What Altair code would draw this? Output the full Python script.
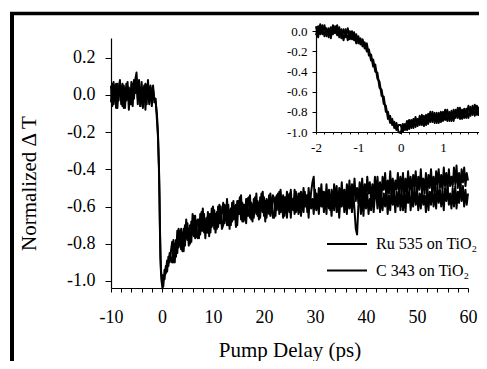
import altair as alt
import pandas as pd

# ---------------- data (values in hundredths) ----------------
# main panel: pump delay (ps)
t_pre = [-10 + 0.25 * i for i in range(35)]           # -10 ... -1.5
t_drop = [-1.25, -1.0, -0.8, -0.6, -0.5, -0.4, -0.3, -0.2, -0.1, 0.0,
          0.1, 0.25, 0.5, 0.75, 1.0, 1.25, 1.5, 1.75]
t_rec = [2 + 0.25 * i for i in range(233)]            # 2 ... 60

ru_pre = [5, -6, 7, -3, 6, -7, 3, 8, -5, 6,
          -7, 4, -3, 7, -8, 3, -5, 6, -2, 8,
          12, -2, 8, -6, 4, -7, 2, 6, -5, 8,
          -4, 5, -6, 3, -2]
c_pre = [-4, 6, -5, 5, -7, 6, -3, 7, 0, -6,
         5, -7, 6, -2, 4, -5, 7, -6, 8, 1,
         9, -5, 6, -6, 7, -4, 5, -8, 5, 6,
         -5, 4, -3, 5, -4]

ru_drop = [-4, -10, -20, -38, -52, -71, -86, -94, -98, -101,
           -97, -103, -94, -96, -89, -92, -85, -89]
c_drop = [-2, -13, -22, -40, -55, -74, -88, -95, -99, -102,
          -104, -98, -99, -92, -95, -87, -90, -84]

ru_rec = [
    -90, -78, -90, -78, -85, -72, -81, -72, -84, -72, -81, -67, -78, -72, -80, -68, -75, -65, -77, -68,
    -67, -77, -64, -73, -61, -74, -67, -74, -63, -76, -64, -71, -60, -72, -64, -72, -60, -69, -60, -72,
    -70, -59, -67, -56, -70, -62, -70, -58, -67, -60, -71, -57, -64, -55, -67, -58, -68, -59, -69, -56,
    -55, -66, -58, -68, -56, -63, -53, -65, -58, -66, -53, -63, -55, -68, -56, -62, -54, -65, -56, -66,
    -66, -55, -62, -53, -64, -51, -61, -54, -65, -55, -66, -54, -63, -51, -61, -56, -64, -52, -62, -53,
    -63, -52, -60, -50, -60, -54, -63, -50, -59, -52, -47, -44, -61, -53, -61, -50, -57, -48, -60, -52,
    -60, -48, -58, -51, -62, -51, -60, -48, -56, -49, -62, -50, -57, -47, -58, -51, -59, -48, -57, -46,
    -58, -48, -55, -45, -57, -50, -58, -47, -55, -45, -58, -48, -55, -44, -53, -47, -57, -48, -56, -44,
    -55, -44, -54, -47, -57, -44, -51, -42, -55, -46, -53, -41, -54, -45, -54, -46, -51, -42, -53, -44,
    -52, -42, -55, -45, -53, -41, -51, -44, -54, -43, -49, -41, -54, -44, -51, -40, -52, -45, -53, -42,
    -53, -43, -50, -40, -52, -44, -53, -41, -48, -40, -50, -43, -52, -39, -49, -42, -51, -40, -49, -44,
    -49, -39, -48, -38, -50, -42, -51, -40, -47, -39, -49, -42, -46]
c_rec = [
    -79, -90, -80, -87, -73, -82, -73, -83, -74, -84, -70, -77, -69, -81, -70, -79, -64, -76, -65, -76,
    -77, -67, -75, -63, -73, -64, -77, -66, -74, -64, -74, -61, -70, -62, -74, -63, -71, -59, -69, -63,
    -58, -69, -61, -70, -59, -72, -61, -68, -57, -66, -59, -70, -57, -64, -54, -68, -59, -67, -56, -65,
    -65, -54, -67, -59, -66, -55, -64, -57, -67, -55, -62, -52, -65, -57, -66, -58, -64, -53, -62, -54,
    -56, -65, -54, -61, -52, -63, -57, -66, -55, -63, -52, -61, -53, -66, -56, -62, -51, -63, -55, -64,
    -53, -65, -55, -63, -52, -60, -54, -66, -53, -61, -56, -64, -51, -62, -55, -64, -53, -60, -52, -63,
    -54, -64, -52, -61, -56, -65, -53, -62, -51, -63, -55, -66, -54, -60, -52, -63, -55, -64, -53, -61,
    -55, -63, -52, -62, -72, -75, -60, -53, -64, -54, -65, -52, -61, -53, -64, -56, -62, -51, -63, -54,
    -52, -61, -50, -63, -55, -62, -53, -60, -51, -64, -54, -62, -51, -59, -53, -63, -52, -60, -50, -62,
    -52, -62, -53, -63, -50, -58, -51, -62, -54, -60, -49, -59, -52, -62, -53, -61, -50, -59, -54, -63,
    -50, -62, -52, -59, -49, -60, -53, -61, -48, -58, -51, -60, -52, -62, -50, -57, -49, -59, -53, -61,
    -50, -60, -49, -61, -52, -58, -48, -57, -49, -60, -51, -59, -53]

# inset: -2 ... 1.85 ps, step 0.05
inset_t = [round(-2 + 0.05 * i, 2) for i in range(78)]
ru_inset = [
    5, -6, 7, -3, 6, -5, 3, -7, 6, -2,
    6, -6, 2, -9, 2, -9, 0, -8, -1, -12,
    -5, -13, -8, -17, -12, -24, -23, -35, -33, -47,
    -50, -64, -65, -80, -80, -91, -87, -96, -91, -100,
    -101, -92, -98, -89, -97, -88, -96, -85, -94, -84,
    -93, -84, -93, -82, -90, -80, -91, -81, -91, -80,
    -89, -78, -89, -80, -89, -78, -86, -76, -87, -78,
    -86, -77, -86, -75, -83, -73, -83, -75]
c_inset = [
    -4, 5, -3, 6, -5, 3, -6, 4, -3, 5,
    -4, 4, -7, 2, -6, 3, -8, 0, -9, -3,
    -12, -7, -15, -11, -20, -18, -29, -28, -40, -41,
    -56, -58, -72, -74, -87, -84, -93, -90, -98, -93,
    -93, -100, -92, -98, -88, -96, -87, -95, -87, -93,
    -83, -94, -83, -92, -80, -90, -81, -91, -81, -90,
    -80, -88, -78, -89, -79, -89, -78, -86, -76, -87,
    -77, -86, -74, -84, -74, -84, -74, -84]

series_names = ["Ru 535", "C 343"]
legend_labels = ["Ru 535 on TiO\u2082", "C 343 on TiO\u2082"]

main_x_ticks = list(range(-10, 61, 2))
main_y_ticks = [0.2, 0.0, -0.2, -0.4, -0.6, -0.8, -1.0]
inset_x_ticks = [-2.0, -1.8, -1.6, -1.4, -1.2, -1.0, -0.8, -0.6, -0.4, -0.2,
                 0.0, 0.2, 0.4, 0.6, 0.8, 1.0, 1.2, 1.4, 1.6, 1.8]
inset_y_ticks = [0.0, -0.2, -0.4, -0.6, -0.8, -1.0]

# ---------------- tables ----------------
main_t = t_pre + t_drop + t_rec
ru_main = [v / 100 for v in ru_pre + ru_drop + ru_rec]
c_main = [v / 100 for v in c_pre + c_drop + c_rec]
n = len(main_t)
df_main = pd.DataFrame({
    "t": main_t + main_t,
    "v": ru_main + c_main,
    "s": [series_names[0]] * n + [series_names[1]] * n,
})
m = len(inset_t)
df_inset = pd.DataFrame({
    "ti": inset_t + inset_t,
    "vi": [v / 100 for v in ru_inset + c_inset],
    "s": [series_names[0]] * m + [series_names[1]] * m,
})

FONT = "Liberation Serif, Times New Roman, DejaVu Serif, serif"
MINUS = "replace(datum.label, '\u2212', '-')"

main = alt.Chart(df_main).mark_line(color="black", strokeWidth=2.0, strokeJoin="round").encode(
    x=alt.X("t:Q",
            scale=alt.Scale(domain=[-10, 60], nice=False, zero=False),
            axis=alt.Axis(values=main_x_ticks, format="d", title="Pump Delay (ps)",
                          labelExpr=f"datum.value % 10 == 0 ? {MINUS} : ''",
                          tickSize=4, labelPadding=16, labelFontSize=18,
                          labelOverlap=False, labelFlush=False,
                          titleFontSize=21, titleY=68, titleBaseline="alphabetic")),
    y=alt.Y("v:Q",
            scale=alt.Scale(domain=[-1.038, 0.306], nice=False, zero=False),
            axis=alt.Axis(values=main_y_ticks, format=".1f", title="Normalized \u0394 T",
                          labelExpr=MINUS, tickSize=6, labelPadding=10, labelFontSize=18,
                          labelOverlap=False, labelFlush=False,
                          titleFontSize=21, titleX=-76, titleY=145,
                          titleBaseline="alphabetic", titleAlign="center")),
    detail="s:N",
)

inset = alt.Chart(df_inset).mark_line(color="black", strokeWidth=2.0, strokeJoin="round").encode(
    x=alt.X("ti:Q",
            scale=alt.Scale(domain=[-2, 1.85], range=[205, 368], nice=False, zero=False),
            axis=alt.Axis(orient="bottom", offset=-156, values=inset_x_ticks, format=".0f",
                          title="",
                          labelExpr=f"abs(datum.value - round(datum.value)) < 0.001 ? {MINUS} : ''",
                          tickSize=2, labelPadding=7, labelFontSize=13,
                          labelOverlap=False, labelFlush=False)),
    y=alt.Y("vi:Q",
            scale=alt.Scale(domain=[-1.0, 0.0476], range=[94, -11.5], nice=False, zero=False),
            axis=alt.Axis(orient="left", offset=-205, values=inset_y_ticks, format=".1f",
                          title="", labelExpr=MINUS, tickSize=4, labelPadding=5,
                          labelFontSize=13, labelOverlap=False, labelFlush=False)),
    detail="s:N",
)

one = pd.DataFrame({"k": [0]})

# legend (drawn by hand, inside the plot)
leg_line1 = alt.Chart(one).mark_rule(color="black", strokeWidth=2.2).encode(
    x=alt.value(216), x2=alt.value(256), y=alt.value(206))
leg_line2 = alt.Chart(one).mark_rule(color="black", strokeWidth=2.2).encode(
    x=alt.value(216), x2=alt.value(256), y=alt.value(232.5))
leg_text1 = alt.Chart(pd.DataFrame({"label": [legend_labels[0]]})).mark_text(
    align="left", baseline="alphabetic", font=FONT, fontSize=16, color="black").encode(
    text="label:N", x=alt.value(265), y=alt.value(211))
leg_text2 = alt.Chart(pd.DataFrame({"label": [legend_labels[1]]})).mark_text(
    align="left", baseline="alphabetic", font=FONT, fontSize=16, color="black").encode(
    text="label:N", x=alt.value(265), y=alt.value(238))

# frame lines of the scanned figure (left and top edges)
frame_left = alt.Chart(one).mark_rule(color="black", strokeWidth=4).encode(
    x=alt.value(-99), y=alt.value(-26), y2=alt.value(330))
frame_top = alt.Chart(one).mark_rule(color="black", strokeWidth=3.5).encode(
    x=alt.value(-101), x2=alt.value(372), y=alt.value(-24.5))

chart = alt.layer(
    main, inset, leg_line1, leg_line2, leg_text1, leg_text2, frame_left, frame_top
).resolve_scale(
    x="independent", y="independent"
).properties(
    width=357, height=250,
    padding={"left": 103, "top": 30, "right": 11, "bottom": 73},
    autosize=alt.AutoSizeParams(type="none"),
    background="white",
).configure_view(
    stroke="transparent"
).configure_axis(
    grid=False,
    domainColor="black", domainWidth=1.2,
    tickColor="black", tickWidth=1,
    labelColor="black", titleColor="black",
    labelFont=FONT, titleFont=FONT, titleFontWeight="normal",
)

chart.save("out.html", embed_options={"renderer": "svg", "actions": False})
